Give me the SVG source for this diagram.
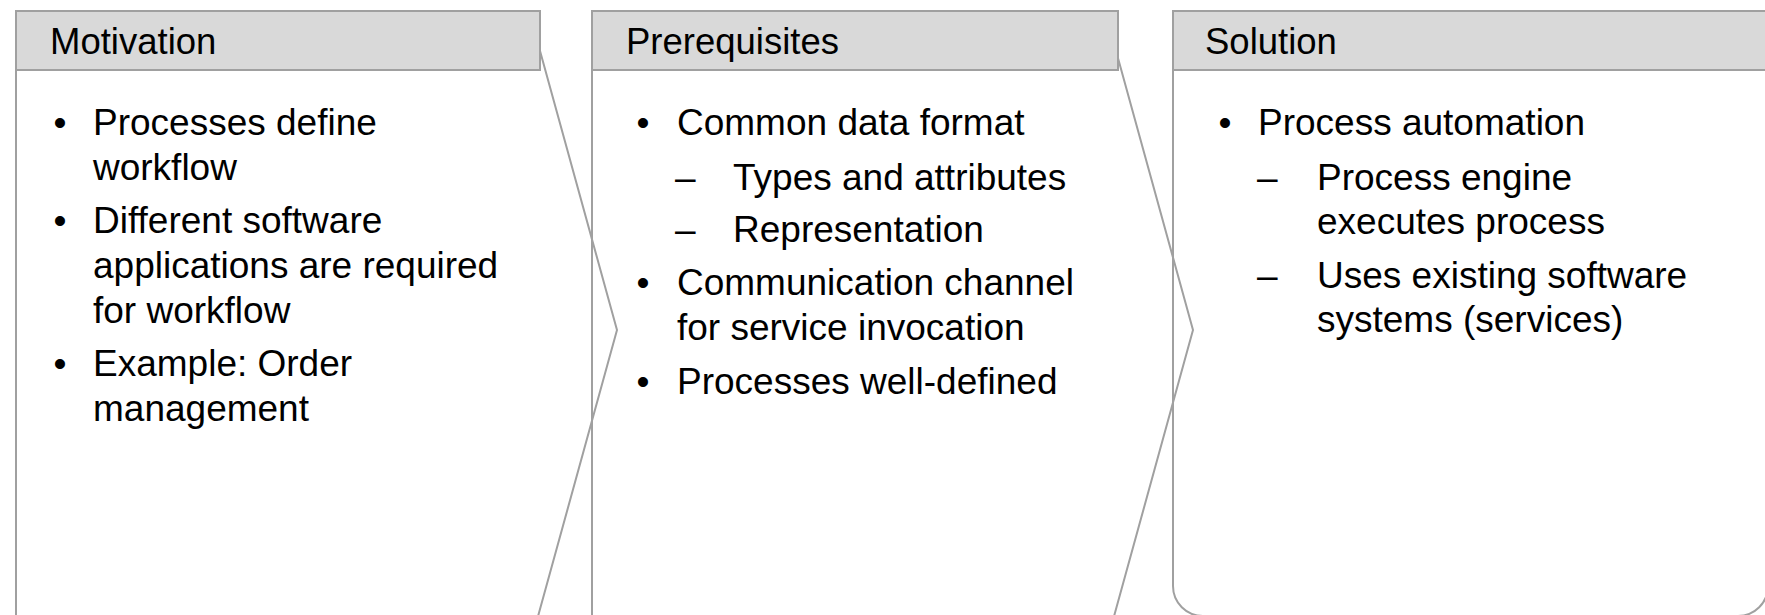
<svg xmlns="http://www.w3.org/2000/svg" width="1765" height="615" viewBox="0 0 1765 615">
  <style>
    .body { fill: none; stroke: #a0a0a0; stroke-width: 2; }
    .head { fill: #d9d9d9; stroke: #a0a0a0; stroke-width: 2; }
    .htxt { font-family: "Liberation Sans", Arial, sans-serif; font-size: 36.5px; fill: #000000; }
    .txt  { font-family: "Liberation Sans", Arial, sans-serif; font-size: 37px; fill: #000000; }
    .blt  { font-family: "Liberation Sans", Arial, sans-serif; font-size: 37px; fill: #000000; text-anchor: middle; }
  </style>
  <rect width="1765" height="615" fill="#ffffff"/>

  <!-- Step 1: Motivation (chevron body, its tip reaches into the next step) -->
  <g id="motivation">
    <path class="body" d="M16,11 L529,11 L617,330 L529,649 L16,649 Z"/>
    <rect class="head" x="16" y="11" width="524" height="59"/>
    <text class="htxt" x="50" y="54">Motivation</text>
    <text class="blt" x="60" y="135">•</text>
    <text class="txt" x="93" y="135">Processes define</text>
    <text class="txt" x="93" y="180">workflow</text>
    <text class="blt" x="60" y="233">•</text>
    <text class="txt" x="93" y="233">Different software</text>
    <text class="txt" x="93" y="278">applications are required</text>
    <text class="txt" x="93" y="323">for workflow</text>
    <text class="blt" x="60" y="376">•</text>
    <text class="txt" x="93" y="376">Example: Order</text>
    <text class="txt" x="93" y="421">management</text>
  </g>

  <!-- Step 2: Prerequisites -->
  <g id="prerequisites">
    <path class="body" d="M592,11 L1105,11 L1193,330 L1105,649 L592,649 Z"/>
    <rect class="head" x="592" y="11" width="526" height="59"/>
    <text class="htxt" x="626" y="54">Prerequisites</text>
    <text class="blt" x="643" y="135">•</text>
    <text class="txt" x="677" y="135">Common data format</text>
    <text class="txt" x="675" y="190">–</text>
    <text class="txt" x="733" y="190">Types and attributes</text>
    <text class="txt" x="675" y="242">–</text>
    <text class="txt" x="733" y="242">Representation</text>
    <text class="blt" x="643" y="295">•</text>
    <text class="txt" x="677" y="295">Communication channel</text>
    <text class="txt" x="677" y="340">for service invocation</text>
    <text class="blt" x="643" y="394">•</text>
    <text class="txt" x="677" y="394">Processes well-defined</text>
  </g>

  <!-- Step 3: Solution (rounded end panel) -->
  <g id="solution">
    <rect class="body" x="1173" y="11" width="595" height="605" rx="30" ry="30"/>
    <rect class="head" x="1173" y="11" width="600" height="59"/>
    <text class="htxt" x="1205" y="54">Solution</text>
    <text class="blt" x="1225" y="135">•</text>
    <text class="txt" x="1258" y="135">Process automation</text>
    <text class="txt" x="1257" y="190">–</text>
    <text class="txt" x="1317" y="190">Process engine</text>
    <text class="txt" x="1317" y="234">executes process</text>
    <text class="txt" x="1257" y="288">–</text>
    <text class="txt" x="1317" y="288">Uses existing software</text>
    <text class="txt" x="1317" y="332">systems (services)</text>
  </g>
</svg>
